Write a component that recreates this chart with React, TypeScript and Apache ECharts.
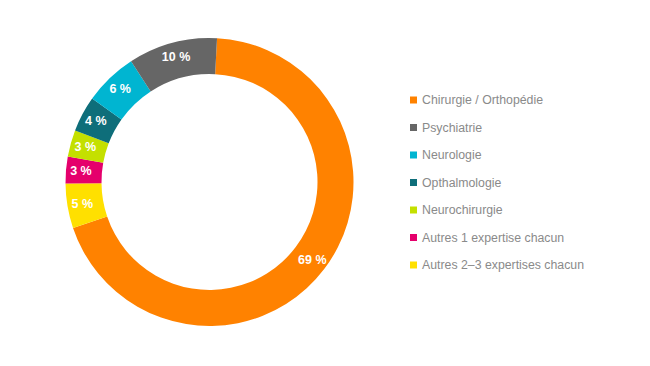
import React, { useEffect, useRef } from "react";
import * as echarts from "echarts";

const categories = [
  "Chirurgie / Orthopédie",
  "Autres 2–3 expertises chacun",
  "Autres 1 expertise chacun",
  "Neurochirurgie",
  "Opthalmologie",
  "Neurologie",
  "Psychiatrie",
];
const values = [69, 5, 3, 3, 4, 6, 10];
const colors = ["#FF8200", "#FFE000", "#E5006C", "#C4E000", "#0E6E7A", "#00B5D1", "#666666"];
const legendOrder = [
  "Chirurgie / Orthopédie",
  "Psychiatrie",
  "Neurologie",
  "Opthalmologie",
  "Neurochirurgie",
  "Autres 1 expertise chacun",
  "Autres 2–3 expertises chacun",
];

export default function App() {
  const ref = useRef<HTMLDivElement>(null);
  useEffect(() => {
    document.body.style.margin = "0";
    const chart = echarts.init(ref.current!, null, { renderer: "svg" });
    chart.setOption({
      animation: false,
      legend: {
        orient: "vertical",
        left: 410,
        top: 93,
        padding: 0,
        itemWidth: 7,
        itemHeight: 7,
        itemGap: 13.5,
        icon: "rect",
        data: legendOrder,
        selectedMode: false,
        textStyle: {
          color: "#8a8a8a",
          fontSize: 12.3,
          lineHeight: 14,
          fontFamily: "Liberation Sans, Arial, sans-serif",
          padding: [0, 0, 0, 0],
        },
      },
      series: [
        {
          type: "pie",
          center: [209.5, 182],
          radius: [108, 144],
          startAngle: 87,
          clockwise: true,
          avoidLabelOverlap: false,
          labelLine: { show: false },
          label: {
            show: true,
            position: "inside",
            formatter: "{c} %",
            color: "#ffffff",
            fontSize: 12.5,
            fontWeight: "bold",
            fontFamily: "Liberation Sans, Arial, sans-serif",
          },
          emphasis: { disabled: true },
          data: categories.map((name, i) => ({
            name,
            value: values[i],
            itemStyle: { color: colors[i] },
          })),
        },
      ],
    });
    return () => chart.dispose();
  }, []);
  return <div ref={ref} style={{ width: 650, height: 366 }} />;
}
